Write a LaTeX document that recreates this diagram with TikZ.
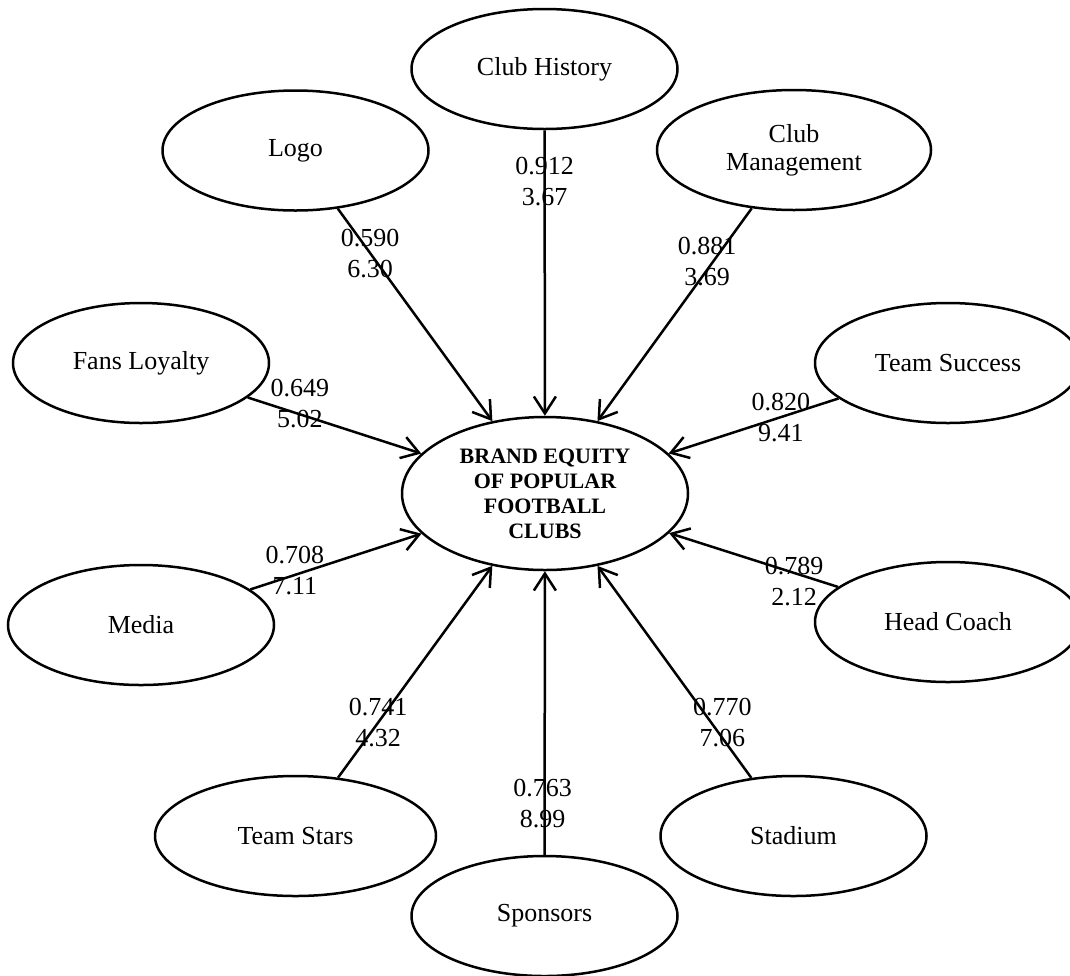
\documentclass[tikz,border=0pt]{standalone}
\usepackage{fontspec}
\setmainfont{Liberation Serif}
\usetikzlibrary{arrows.meta,shapes.geometric}

\begin{document}
\begin{tikzpicture}[
        x=1pt, y=-1pt,
        every path/.style={line width=2.5pt},
        factor/.style={ellipse, draw, minimum width=266pt, minimum height=120pt, inner sep=0pt, align=center, font=\fontsize{26}{28}\selectfont},
        load/.style={align=center, inner sep=0pt, font=\fontsize{26}{31}\selectfont},
        link/.style={-{Straight Barb[length=17pt,width=22pt]}}
    ]
    \path[use as bounding box, fill=white] (0,0) rectangle (1070,975);

    % latent construct in the middle
    \node[factor, minimum width=286pt, minimum height=153pt, font=\fontsize{22}{25}\selectfont\bfseries] (brand) at (545,493.5) {BRAND EQUITY\\OF POPULAR\\FOOTBALL\\CLUBS};

    % indicators
    \node[factor] (history) at (544.5,69) {Club History};
    \node[factor] (logo) at (295.5,150.5) {Logo};
    \node[factor, minimum width=274pt] (management) at (794,150) {Club\\Management};
    \node[factor, minimum width=256pt] (loyalty) at (141,363) {Fans Loyalty};
    \node[factor] (success) at (948,363) {Team Success};
    \node[factor] (media) at (141,625) {Media};
    \node[factor] (coach) at (948,622) {Head Coach};
    \node[factor, minimum width=281pt] (stars) at (295.5,836) {Team Stars};
    \node[factor] (stadium) at (793.5,836) {Stadium};
    \node[factor] (sponsors) at (544.5,916) {Sponsors};

    % loadings and t-values
    \draw[link] (history) -- node[load, pos=0.18] {0.912\\3.67} (brand);
    \draw[link] (logo) -- node[load, pos=0.21] {0.590\\6.30} (brand);
    \draw[link] (management) -- node[load, pos=0.25, xshift=-6pt] {0.881\\3.69} (brand);
    \draw[link] (loyalty) -- node[load, pos=0.30, yshift=11pt] {0.649\\5.02} (brand);
    \draw[link] (success) -- node[load, pos=0.34] {0.820\\9.41} (brand);
    \draw[link] (media) -- node[load, pos=0.26, yshift=4pt] {0.708\\7.11} (brand);
    \draw[link] (coach) -- node[load, pos=0.26, yshift=-9pt] {0.789\\2.12} (brand);
    \draw[link] (stars) -- node[load, pos=0.26] {0.741\\4.32} (brand);
    \draw[link] (sponsors) -- node[load, pos=0.18, xshift=-2pt] {0.763\\8.99} (brand);
    \draw[link] (stadium) -- node[load, pos=0.26, xshift=11pt] {0.770\\7.06} (brand);
\end{tikzpicture}
\end{document}
